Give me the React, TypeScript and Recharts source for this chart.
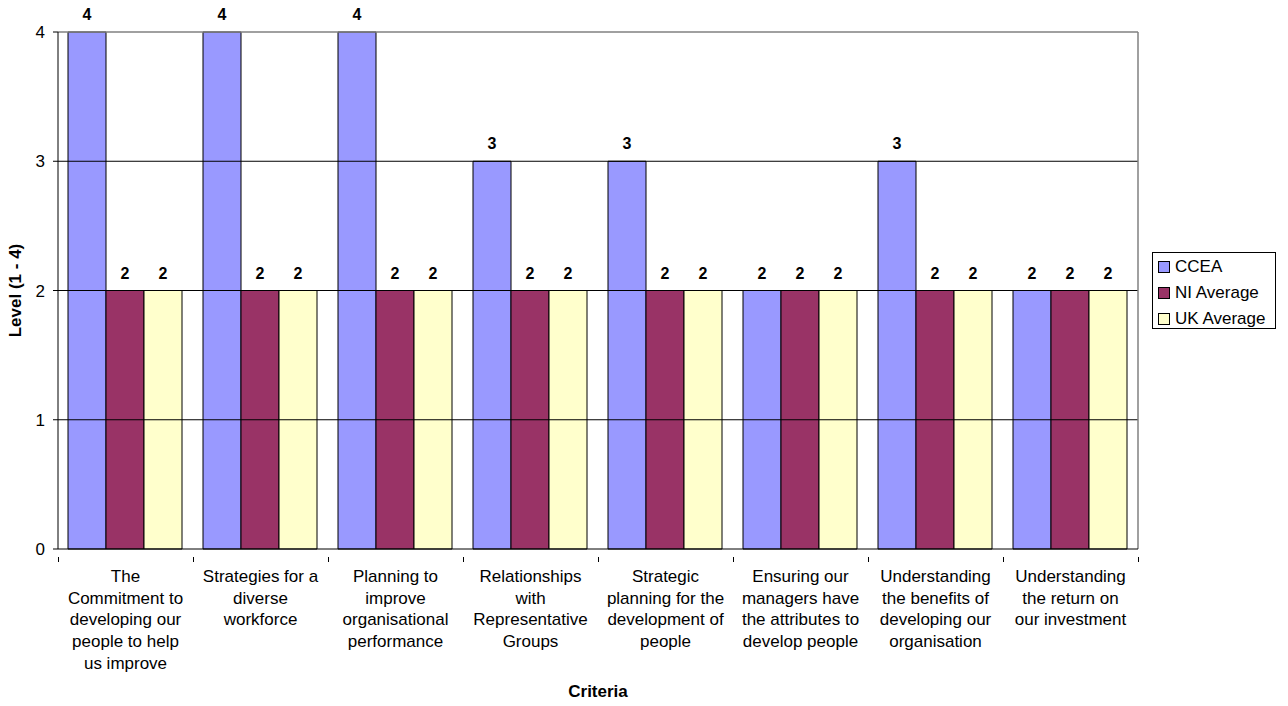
import React from "react";
import {
  Bar,
  BarChart,
  LabelList,
  ReferenceLine,
  XAxis,
  YAxis,
} from "recharts";

const categories = [
  "The Commitment to developing our people to help us improve",
  "Strategies for a diverse workforce",
  "Planning to improve organisational performance",
  "Relationships with Representative Groups",
  "Strategic planning for the development of people",
  "Ensuring our managers have the attributes to develop people",
  "Understanding the benefits of developing our organisation",
  "Understanding the return on our investment",
];

// how each category label wraps under the axis
const categoryLines = [
  ["The", "Commitment to", "developing our", "people to help", "us improve"],
  ["Strategies for a", "diverse", "workforce"],
  ["Planning to", "improve", "organisational", "performance"],
  ["Relationships", "with", "Representative", "Groups"],
  ["Strategic", "planning for the", "development of", "people"],
  ["Ensuring our", "managers have", "the attributes to", "develop people"],
  ["Understanding", "the benefits of", "developing our", "organisation"],
  ["Understanding", "the return on", "our investment"],
];

const cceaValues = [4, 4, 4, 3, 3, 2, 3, 2];
const niValues = [2, 2, 2, 2, 2, 2, 2, 2];
const ukValues = [2, 2, 2, 2, 2, 2, 2, 2];

const yTicks = [0, 1, 2, 3, 4];

const series = [
  { key: "ccea", name: "CCEA", color: "#9999FF" },
  { key: "ni", name: "NI Average", color: "#993366" },
  { key: "uk", name: "UK Average", color: "#FFFFCC" },
];

const data = categories.map((name, i) => ({
  name,
  ccea: cceaValues[i],
  ni: niValues[i],
  uk: ukValues[i],
}));

const W = 1288;
const H = 706;
const MARGIN = { top: 32, right: 150, bottom: 0, left: 0 };
const Y_AXIS_W = 58;
const X_AXIS_H = 157;
const BAND = (W - MARGIN.left - MARGIN.right - Y_AXIS_W) / categories.length;
const FONT = "'Liberation Sans', Arial, sans-serif";
const FS = 17;

function CategoryTick(props: any) {
  const { x, y, payload, index } = props;
  const lines = categoryLines[index] ?? [payload.value];
  const x0 = Math.round(x - BAND / 2) + 0.5;
  const x1 = Math.round(x + BAND / 2) + 0.5;
  return (
    <g>
      <line x1={x0} x2={x0} y1={y} y2={y + 5} stroke="#000" />
      {index === categories.length - 1 && (
        <line x1={x1} x2={x1} y1={y} y2={y + 5} stroke="#000" />
      )}
      <text textAnchor="middle" fontSize={FS} fill="#000" fontFamily={FONT}>
        {lines.map((l: string, i: number) => (
          <tspan key={i} x={x} y={y + 25 + i * 21.7}>
            {l}
          </tspan>
        ))}
      </text>
    </g>
  );
}

export default function App() {
  return (
    <div style={{ position: "absolute", left: 0, top: 0, width: W, height: H, background: "#fff", fontFamily: FONT }}>
      <BarChart
        width={W}
        height={H}
        data={data}
        margin={MARGIN}
        barCategoryGap={10}
        barGap={0}
      >
        <ReferenceLine y={1} stroke="#000" />
        <ReferenceLine y={2} stroke="#000" />
        <ReferenceLine y={3} stroke="#000" />
        <ReferenceLine y={4} stroke="#808080" strokeWidth={1.5} />
        <ReferenceLine
          x={categories[categories.length - 1]}
          position="end"
          stroke="#808080"
          strokeWidth={1.5}
        />
        <XAxis
          dataKey="name"
          interval={0}
          height={X_AXIS_H}
          tickLine={false}
          axisLine={{ stroke: "#000" }}
          tick={<CategoryTick />}
          label={{
            content: (p: any) => {
              const vb = p.viewBox;
              return (
                <text
                  x={vb.x + vb.width / 2}
                  y={693}
                  textAnchor="middle"
                  dominantBaseline="middle"
                  fontWeight="bold"
                  fontSize={FS}
                  fontFamily={FONT}
                  fill="#000"
                >
                  Criteria
                </text>
              );
            },
          }}
        />
        <YAxis
          width={Y_AXIS_W}
          domain={[0, 4]}
          ticks={yTicks}
          interval={0}
          tickSize={5}
          tickMargin={8}
          axisLine={{ stroke: "#000" }}
          tickLine={{ stroke: "#000" }}
          tick={{ fill: "#000", fontSize: FS, fontFamily: FONT }}
          label={{
            content: (p: any) => {
              const vb = p.viewBox;
              const cy = vb.y + vb.height / 2;
              return (
                <text
                  x={17}
                  y={cy}
                  transform={`rotate(-90, 17, ${cy})`}
                  textAnchor="middle"
                  dominantBaseline="middle"
                  fontWeight="bold"
                  fontSize={FS}
                  fontFamily={FONT}
                  fill="#000"
                >
                  Level (1 - 4)
                </text>
              );
            },
          }}
        />
        {series.map((s) => (
          <Bar
            key={s.key}
            dataKey={s.key}
            name={s.name}
            fill={s.color}
            stroke="#000"
            strokeWidth={1}
            isAnimationActive={false}
          >
            <LabelList
              dataKey={s.key}
              position="top"
              offset={12}
              style={{ fill: "#000", fontSize: 16, fontWeight: "bold", fontFamily: FONT }}
            />
          </Bar>
        ))}
      </BarChart>
      <div
        style={{
          position: "absolute",
          left: 1152,
          top: 252,
          width: 122,
          height: 75,
          border: "1px solid #000",
          background: "#fff",
          boxSizing: "content-box",
        }}
      >
        {series.map((s, i) => (
          <div
            key={s.key}
            style={{
              position: "absolute",
              left: 5,
              top: 3 + i * 26,
              height: 22,
              display: "flex",
              alignItems: "center",
              fontSize: FS,
              color: "#000",
              whiteSpace: "nowrap",
            }}
          >
            <span
              style={{
                display: "inline-block",
                width: 10,
                height: 10,
                background: s.color,
                border: "1px solid #000",
                marginRight: 5,
              }}
            />
            {s.name}
          </div>
        ))}
      </div>
    </div>
  );
}
